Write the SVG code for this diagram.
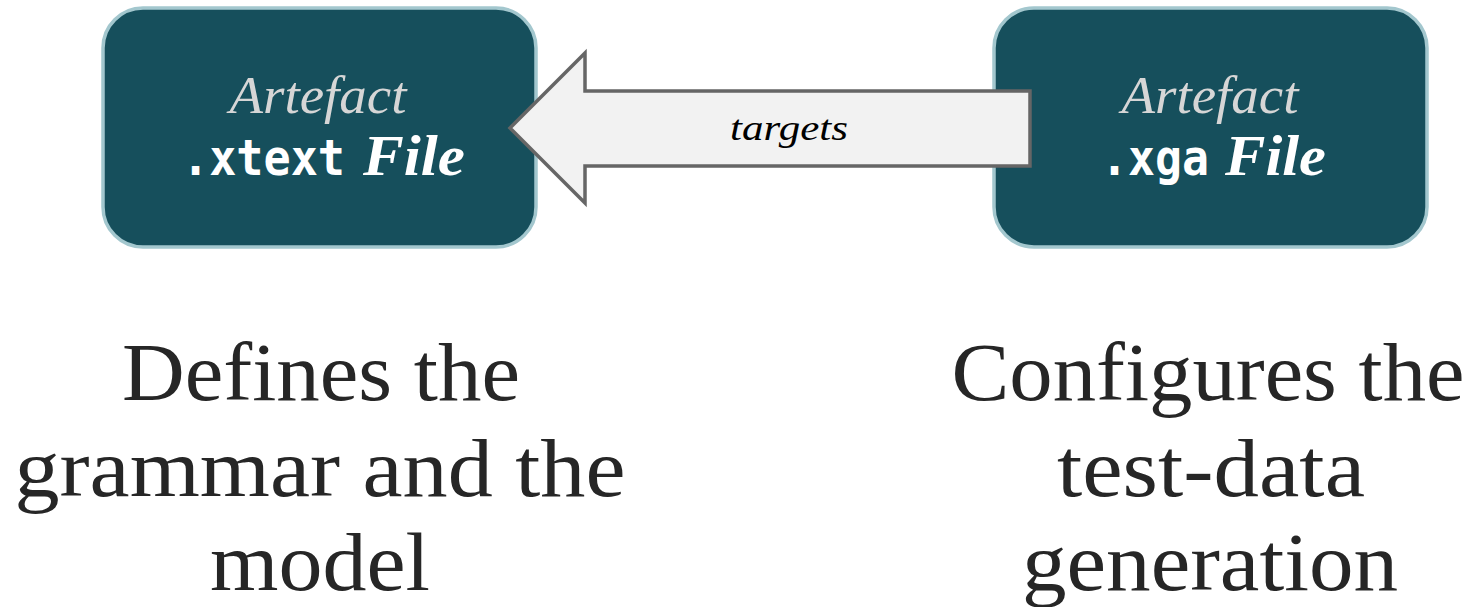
<svg xmlns="http://www.w3.org/2000/svg" width="1477" height="607" viewBox="0 0 1477 607">
  <style>
    .box { fill: #164f5c; stroke: #a3c7ce; stroke-width: 3.5; }
    .kind { font-family: "Liberation Serif", serif; font-style: italic; font-size: 52px; fill: #d6d6d6; }
    .ext { font-family: "DejaVu Sans Mono", "Liberation Mono", monospace; font-weight: bold; font-size: 50px; fill: #ffffff; }
    .file { font-family: "Liberation Serif", serif; font-style: italic; font-weight: bold; font-size: 56px; fill: #ffffff; }
    .arrow { fill: #f2f2f2; stroke: #666666; stroke-width: 3.5; stroke-linejoin: miter; }
    .label { font-family: "Liberation Serif", serif; font-style: italic; font-size: 35px; fill: #000000; }
    .desc { font-family: "Liberation Serif", serif; font-size: 82px; fill: #262626; }
  </style>

  <rect width="1477" height="607" fill="#ffffff"/>

  <g id="node-xtext">
    <rect class="box" x="103" y="8" width="433" height="239" rx="40" ry="40"/>
    <text class="kind" x="318" y="113" text-anchor="middle" textLength="177" lengthAdjust="spacingAndGlyphs">Artefact</text>
    <text class="ext" x="182" y="175" textLength="163" lengthAdjust="spacingAndGlyphs">.xtext</text>
    <text class="file" x="363" y="175" textLength="102" lengthAdjust="spacingAndGlyphs">File</text>
  </g>

  <g id="node-xga">
    <rect class="box" x="994" y="8" width="433" height="239" rx="40" ry="40"/>
    <text class="kind" x="1210" y="113" text-anchor="middle" textLength="177" lengthAdjust="spacingAndGlyphs">Artefact</text>
    <text class="ext" x="1101" y="175" textLength="108" lengthAdjust="spacingAndGlyphs">.xga</text>
    <text class="file" x="1225" y="175" textLength="101" lengthAdjust="spacingAndGlyphs">File</text>
  </g>

  <!-- connector: block arrow from the .xga artefact to the .xtext artefact, drawn over both boxes -->
  <g id="connectors">
    <path class="arrow" d="M1030,91 L585,91 L585,53 L510,128 L585,203 L585,166 L1030,166 Z"/>
    <text class="label" x="789" y="140" text-anchor="middle" textLength="118" lengthAdjust="spacingAndGlyphs">targets</text>
  </g>

  <g id="desc-xtext">
    <text class="desc" x="321" y="400" text-anchor="middle" textLength="398" lengthAdjust="spacingAndGlyphs">Defines the</text>
    <text class="desc" x="320" y="496" text-anchor="middle" textLength="611" lengthAdjust="spacingAndGlyphs">grammar and the</text>
    <text class="desc" x="320" y="590" text-anchor="middle" textLength="220" lengthAdjust="spacingAndGlyphs">model</text>
  </g>

  <g id="desc-xga">
    <text class="desc" x="1208" y="400" text-anchor="middle" textLength="513" lengthAdjust="spacingAndGlyphs">Configures the</text>
    <text class="desc" x="1211" y="496" text-anchor="middle" textLength="308" lengthAdjust="spacingAndGlyphs">test-data</text>
    <text class="desc" x="1210" y="590" text-anchor="middle" textLength="376" lengthAdjust="spacingAndGlyphs">generation</text>
  </g>
</svg>
